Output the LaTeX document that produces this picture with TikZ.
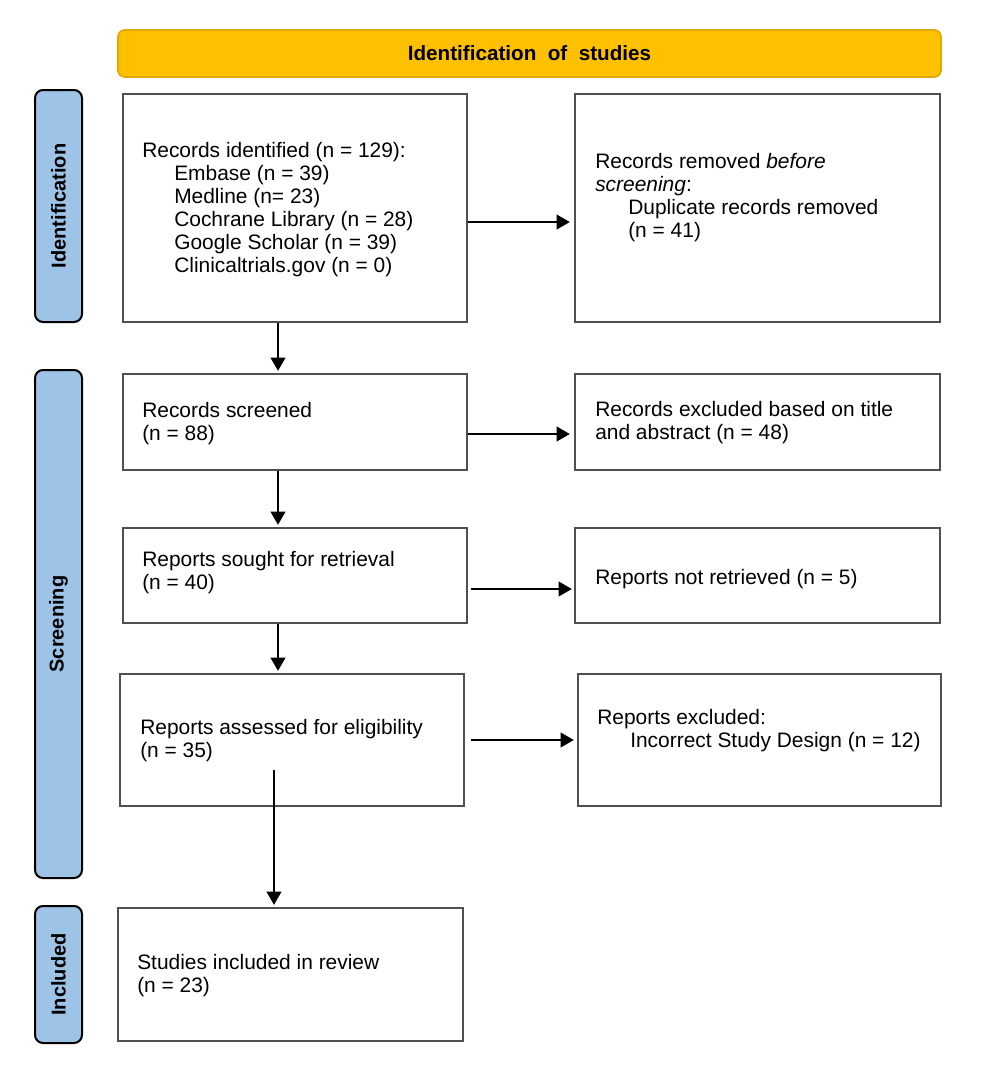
\documentclass[tikz,border=0pt]{standalone}
\usepackage{fontspec}
\setmainfont{Liberation Sans}
\usetikzlibrary{arrows.meta,fit,calc}
\definecolor{hdr}{HTML}{FFC000}
\definecolor{hdrline}{HTML}{E0A800}
\definecolor{sidefill}{HTML}{9DC3E6}
\definecolor{boxline}{HTML}{505050}
\begin{document}
\begin{tikzpicture}[x=0.75pt,y=-0.75pt,
  box/.style={draw=boxline, line width=1.7pt, inner sep=0pt},
  sidebar/.style={draw=black, line width=1.5pt, fill=sidefill, rounded corners=6pt, inner sep=0pt},
  hdrbox/.style={draw=hdrline, line width=1.2pt, fill=hdr, rounded corners=5pt, inner sep=0pt},
  sidelabel/.style={rotate=90, inner sep=0pt, font=\bfseries\fontsize{15pt}{18pt}\selectfont},
  txt/.style={font=\fontsize{15.7pt}{17.25pt}\selectfont, align=left, inner sep=0pt, anchor=west},
  arr/.style={-{Triangle[length=10pt,width=11pt]}, line width=1.7pt, black}]
\useasboundingbox (0,0) rectangle (986,1068);

% header
\node[hdrbox, fit={(118,30)(941,77)}] (hdr) {};
\node[inner sep=0pt, font=\bfseries\fontsize{15.5pt}{18pt}\selectfont] (hdrt) at (hdr.center) {Identification\ \ of\ \ studies};

% side bars
\node[sidebar, fit={(35,90)(82,322)}] (sid) {};
\node[sidelabel] (sidt) at (sid.center) {Identification};
\node[sidebar, fit={(35,370)(82,878)}] (ssc) {};
\node[sidelabel] (ssct) at (ssc.center) {Screening};
\node[sidebar, fit={(35,906)(82,1043)}] (sin) {};
\node[sidelabel] (sint) at (sin.center) {Included};

% boxes
\node[box, fit={(123,94)(467,322)}] (b1) {};
\node[box, fit={(575,94)(940,322)}] (b2) {};
\node[box, fit={(123,374)(467,470)}] (b3) {};
\node[box, fit={(575,374)(940,470)}] (b4) {};
\node[box, fit={(123,528)(467,623)}] (b5) {};
\node[box, fit={(575,528)(940,623)}] (b6) {};
\node[box, fit={(120,674)(464,806)}] (b7) {};
\node[box, fit={(578,674)(941,806)}] (b8) {};
\node[box, fit={(118,908)(463,1041)}] (b9) {};

% texts
\node[txt] (t1) at (142,210) {Records identified (n = 129):\\
\hspace*{24pt}Embase (n = 39)\\
\hspace*{24pt}Medline (n= 23)\\
\hspace*{24pt}Cochrane Library (n = 28)\\
\hspace*{24pt}Google Scholar (n = 39)\\
\hspace*{24pt}Clinicaltrials.gov (n = 0)};
\node[txt] (t2) at (595,198) {Records removed \textit{before}\\
\textit{screening}:\\
\hspace*{24.75pt}Duplicate records removed\\
\hspace*{24.75pt}(n = 41)};
\node[txt] (t3) at (142,424) {Records screened\\(n = 88)};
\node[txt] (t4) at (595,423) {Records excluded based on title\\and abstract (n = 48)};
\node[txt] (t5) at (142,572.5) {Reports sought for retrieval\\(n = 40)};
\node[txt] (t6) at (595,579) {Reports not retrieved (n = 5)};
\node[txt] (t7) at (140,741) {Reports assessed for eligibility\\(n = 35)};
\node[txt] (t8) at (597,730.5) {Reports excluded:\\
\hspace*{24.75pt}Incorrect Study Design (n = 12)};
\node[txt] (t9) at (137,975.5) {Studies included in review\\(n = 23)};

% connectors
\coordinate (vx) at (278,0);
\coordinate (vx2) at (274,0);
\coordinate (s9) at (274,770);
\draw[arr] ($(b1.east)+(0,14)$) -- ($(b2.west |- b1.east)+(-4,14)$);
\draw[arr] ($(b3.east)+(0,12)$) -- ($(b4.west |- b3.east)+(-4,12)$);
\draw[arr] ($(b5.east)+(3,13.5)$) -- ($(b6.west |- b5.east)+(-2,13.5)$);
\draw[arr] ($(b7.east)+(6,0)$) -- ($(b8.west |- b7.east)+(-3,0)$);
\draw[arr] (vx |- b1.south) -- ($(vx |- b3.north)+(0,-2)$);
\draw[arr] (vx |- b3.south) -- ($(vx |- b5.north)+(0,-2)$);
\draw[arr] (vx |- b5.south) -- ($(vx |- b7.north)+(0,-2)$);
\draw[arr] (s9) -- ($(vx2 |- b9.north)+(0,-2)$);
\end{tikzpicture}
\end{document}
